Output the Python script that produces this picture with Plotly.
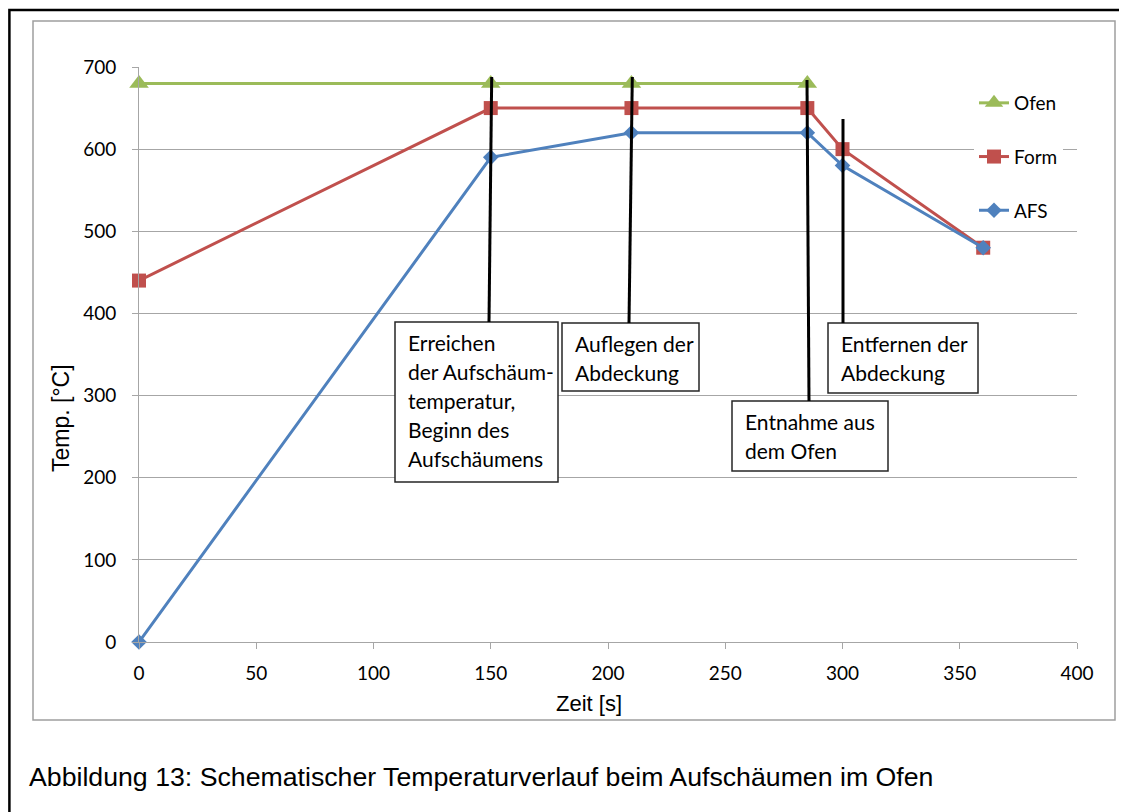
import plotly.graph_objects as go

# ---- data -------------------------------------------------------------
zeit_ofen = [0, 150, 210, 285]
temp_ofen = [680, 680, 680, 680]

zeit_form = [0, 150, 210, 285, 300, 360]
temp_form = [440, 650, 650, 650, 600, 480]

zeit_afs = [0, 150, 210, 285, 300, 360]
temp_afs = [0, 590, 620, 620, 580, 480]

series_names = ["Ofen", "Form", "AFS"]
x_ticks = [0, 50, 100, 150, 200, 250, 300, 350, 400]
y_ticks = [0, 100, 200, 300, 400, 500, 600, 700]

callout_texts = [
    ["Erreichen", "der Aufschäum-", "temperatur,", "Beginn des", "Aufschäumens"],
    ["Auflegen der", "Abdeckung"],
    ["Entfernen der", "Abdeckung"],
    ["Entnahme aus", "dem Ofen"],
]
caption = "Abbildung 13: Schematischer Temperaturverlauf beim Aufschäumen im Ofen"

# ---- layout geometry (window pixels; page body has an 8px margin) -----
OFF = 8
W, H = 1127 - OFF, 812 - OFF
PLOT_L, PLOT_R, PLOT_T, PLOT_B = 139, 1077, 67, 642   # window pixels
L, T = PLOT_L - OFF, PLOT_T - OFF
PW, PH = PLOT_R - PLOT_L, PLOT_B - PLOT_T
R, B = W - L - PW, H - T - PH
X_RANGE, Y_RANGE = [0, 400], [0, 700]


def dx(px):
    return X_RANGE[0] + (px - PLOT_L) / PW * (X_RANGE[1] - X_RANGE[0])


def dy(py):
    return Y_RANGE[0] + (PLOT_B - py) / PH * (Y_RANGE[1] - Y_RANGE[0])


def pxp(px):
    return (px - PLOT_L) / PW


def pyp(py):
    return (PLOT_B - py) / PH


# callout geometry in pixels: pointer line (top, bottom), box (x0, y0, x1, y1)
callout_geom = [
    dict(line=((491.7, 77), (489, 322)), box=(395, 322, 558, 482)),
    dict(line=((632.3, 77), (629, 323)), box=(562, 323, 699, 391)),
    dict(line=((843, 119), (843, 323)), box=(828, 323, 978, 393)),
    dict(line=((807, 80), (809, 401)), box=(732, 401, 888, 471)),
]

GREEN, RED, BLUE = "#9BBB59", "#C0504D", "#4F81BD"
TICK_FONT = dict(family="Lato", size=19, color="#000000")
BOX_FONT = dict(family="Lato", size=21, color="#000000")
GRID = "#A6A6A6"

fig = go.Figure()
fig.add_trace(go.Scatter(
    x=zeit_ofen, y=temp_ofen, name=series_names[0], mode="lines+markers",
    line=dict(color=GREEN, width=3),
    marker=dict(symbol="triangle-up", size=17, color=GREEN),
    legendgroup="a", cliponaxis=False))
fig.add_trace(go.Scatter(
    x=zeit_form, y=temp_form, name=series_names[1], mode="lines+markers",
    line=dict(color=RED, width=3),
    marker=dict(symbol="square", size=14, color=RED),
    legendgroup="b", cliponaxis=False))
fig.add_trace(go.Scatter(
    x=zeit_afs, y=temp_afs, name=series_names[2], mode="lines+markers",
    line=dict(color=BLUE, width=3),
    marker=dict(symbol="diamond", size=12, color=BLUE),
    legendgroup="c", cliponaxis=False))

shapes = []
# outer black frame (extends beyond the picture at right/bottom)
shapes.append(dict(type="rect", xref="paper", yref="paper",
                   x0=pxp(9.4), x1=pxp(1140), y0=pyp(830), y1=pyp(10),
                   line=dict(color="#000000", width=2.5), layer="above"))
# chart area frame
shapes.append(dict(type="rect", xref="paper", yref="paper",
                   x0=pxp(33), x1=pxp(1115), y0=pyp(720), y1=pyp(21),
                   line=dict(color="#9E9E9E", width=1.5), layer="below"))

annotations = []
for geom, lines in zip(callout_geom, callout_texts):
    (x0, y0, x1, y1) = geom["box"]
    shapes.append(dict(type="rect", xref="x", yref="y",
                       x0=dx(x0), x1=dx(x1), y0=dy(y1), y1=dy(y0),
                       line=dict(color="#262626", width=1.5),
                       fillcolor="#FFFFFF", layer="above"))
    (lx0, ly0), (lx1, ly1) = geom["line"]
    shapes.append(dict(type="line", xref="x", yref="y",
                       x0=dx(lx0), y0=dy(ly0), x1=dx(lx1), y1=dy(ly1),
                       line=dict(color="#000000", width=3), layer="above"))
    for i, txt in enumerate(lines):
        annotations.append(dict(
            x=dx(x0 + 10.5), y=dy(y0 + 20 + 29 * i), xref="x", yref="y",
            text=txt, showarrow=False, xanchor="left", yanchor="middle",
            font=BOX_FONT))

# axis titles and caption
annotations.append(dict(text="Temp. [°C]", x=pxp(61), y=pyp(418),
                        xref="paper", yref="paper", showarrow=False,
                        xanchor="center", yanchor="middle", textangle=-90,
                        font=dict(family="Liberation Sans", size=23, color="#000")))
annotations.append(dict(text="Zeit [s]", x=pxp(589), y=pyp(703),
                        xref="paper", yref="paper", showarrow=False,
                        xanchor="center", yanchor="middle",
                        font=dict(family="Liberation Sans", size=22, color="#000")))
annotations.append(dict(text=caption, x=pxp(27), y=pyp(777),
                        xref="paper", yref="paper", showarrow=False,
                        xanchor="left", yanchor="middle",
                        font=dict(family="Liberation Sans", size=26.7, color="#000")))

fig.update_layout(
    width=W, height=H,
    margin=dict(l=L, r=R, t=T, b=B, autoexpand=False),
    paper_bgcolor="#FFFFFF", plot_bgcolor="#FFFFFF",
    shapes=shapes, annotations=annotations,
    showlegend=True,
    legend=dict(x=pxp(974), y=pyp(84), xanchor="left", yanchor="top",
                font=TICK_FONT, bgcolor="#FFFFFF", traceorder="grouped",
                tracegroupgap=26, borderwidth=0),
    xaxis=dict(range=X_RANGE, tickvals=x_ticks, showgrid=False, zeroline=False,
               showline=True, linecolor=GRID, linewidth=1,
               ticks="outside", ticklen=6, tickcolor=GRID,
               tickfont=TICK_FONT, ticklabelstandoff=8),
    yaxis=dict(range=Y_RANGE, tickvals=y_ticks, showgrid=True, gridcolor=GRID,
               gridwidth=1, zeroline=False,
               showline=True, linecolor=GRID, linewidth=1,
               ticks="outside", ticklen=6, tickcolor=GRID,
               tickfont=TICK_FONT, ticklabelstandoff=12),
)

fig.write_html("out.html")
